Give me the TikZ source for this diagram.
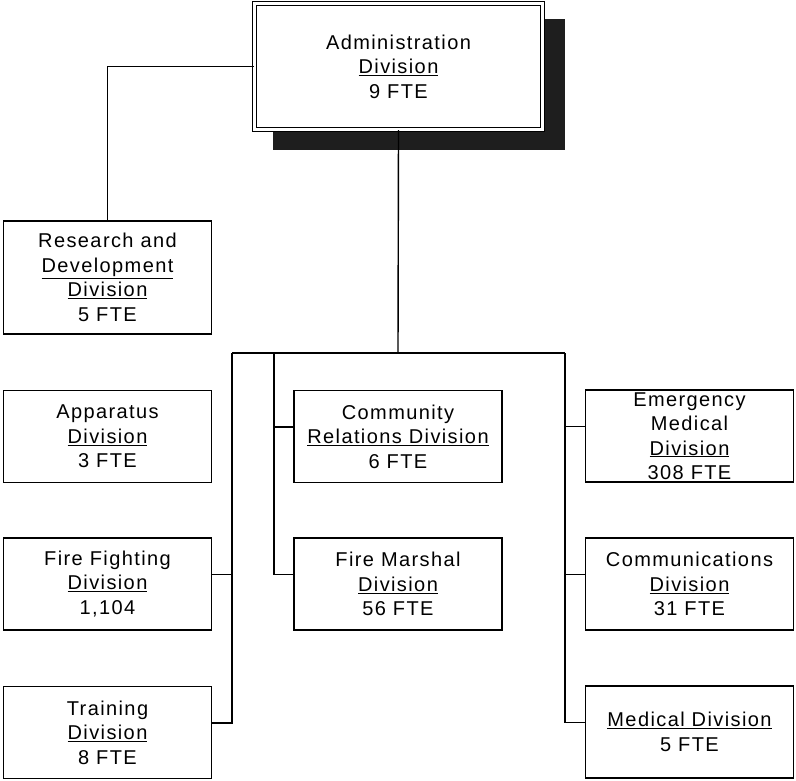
\documentclass[tikz,border=0pt]{standalone}
\usepackage{fontspec}
\setmainfont[LetterSpace=7]{Liberation Sans}
\definecolor{shadowGray}{RGB}{30,30,30}
\usepackage{tikz}
\usetikzlibrary{positioning,calc}

\begin{document}
\begin{tikzpicture}[
        x=1pt, y=-1pt,
        division/.style={draw, line width=1.3pt, fill=white,
          minimum width=208pt, minimum height=92pt, inner sep=0pt,
          align=center, font=\fontsize{20}{24.5}\selectfont},
        head/.style={division, double, double distance=2.6pt, line width=1.1pt,
          minimum width=288pt, minimum height=126pt},
        link/.style={line width=1.4pt}
      ]
        \useasboundingbox (0,0) rectangle (796,781);

        % Top level
        \fill[shadowGray] (273,19) rectangle (565,150);
        \node[head] (admin) at (398.5,66.5) {Administration\\ \underline{Division}\\ 9 FTE};

        \node[division, minimum height=113pt] (rnd) at (107.5,277.5)
          {Research and\\ \underline{Development}\\ \underline{Division}\\ 5 FTE};

        % Left column
        \node[division] (app) at (107.5,436.5) {Apparatus\\ \underline{Division}\\ 3 FTE};
        \node[division] (ff)  at (107.5,584)   {Fire Fighting\\ \underline{Division}\\ 1,104};
        \node[division] (trn) at (107.5,732.5) {Training\\ \underline{Division}\\ 8 FTE};

        % Middle column
        \node[division] (crd) at (398,436.5) {Community\\ \underline{Relations Division}\\ 6 FTE};
        \node[division] (fm)  at (398,584)   {Fire Marshal\\ \underline{Division}\\ 56 FTE};

        % Right column
        \node[division] (ems) at (689.5,436) {Emergency\\ Medical\\ \underline{Division}\\ 308 FTE};
        \node[division] (com) at (689.5,584) {Communications\\ \underline{Division}\\ 31 FTE};
        \node[division] (med) at (689.5,732) {\underline{Medical Division}\\ 5 FTE};

        % Bus
        \coordinate (bus)  at (398,353);
        \coordinate (busL) at (232,353);
        \coordinate (busM) at (274,353);
        \coordinate (busR) at (565,353);

        \draw[link] (admin.west) -| (rnd.north);
        \draw[link] (admin.south) -- (bus);
        \draw[link] (busL) -- (busR);

        % Left trunk
        \draw[link] (busL) |- ([yshift=9.5pt]trn.east);
        \draw[link] ([yshift=9.5pt]ff.east) -| (busL);

        % Middle trunk
        \draw[link] (busM) |- ([yshift=9.5pt]fm.west);
        \draw[link] ([yshift=9.5pt]crd.west) -| (busM);

        % Right trunk
        \draw[link] (busR) |- ([yshift=9.5pt]med.west);
        \draw[link] ([yshift=9.5pt]ems.west) -| (busR);
        \draw[link] ([yshift=9.5pt]com.west) -| (busR);
      \end{tikzpicture}
\end{document}
